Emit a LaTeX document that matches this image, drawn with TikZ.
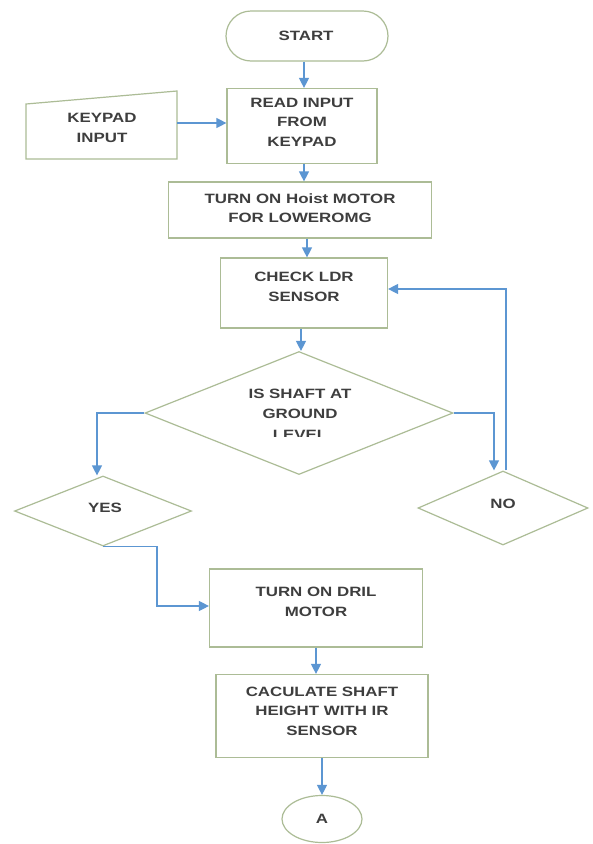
\documentclass[tikz,border=0pt]{standalone}
\usepackage{fontspec}
\newfontfamily\lbl[FakeStretch=1.25]{Liberation Sans}
\usetikzlibrary{shapes.geometric,arrows.meta}
\definecolor{bordc}{RGB}{172,188,150}
\definecolor{arrc}{RGB}{92,150,210}
\definecolor{txtc}{RGB}{62,62,62}
\tikzset{
  shp/.style={draw=bordc, line width=1.2pt, inner sep=0pt, fill=white},
  procbox/.style={shp, rectangle},
  decbox/.style={shp, diamond},
  txt/.style={text=txtc, font=\lbl\bfseries\fontsize{13.5}{19.5}\selectfont, align=center, inner sep=0pt},
  arr/.style={draw=arrc, line width=1.2pt, -{Triangle[length=10pt,width=10pt]}}
}
\begin{document}
\begin{tikzpicture}[x=1pt,y=-1pt]
\useasboundingbox (0,0) rectangle (593,844);
\fill[white] (0,0) rectangle (593,844);
% shapes
\node[shp, rectangle, rounded corners=25pt, minimum width=162pt, minimum height=50pt] (start) at (307,36) {};
\node[procbox, minimum width=150pt, minimum height=75pt] (read) at (302,126) {};
\draw[shp] (26,104) -- (177,91) -- (177,159) -- (26,159) -- cycle;
\coordinate (kpR) at (177,123);
\node[procbox, minimum width=263pt, minimum height=56pt] (hoist) at (300,210) {};
\node[procbox, minimum width=167pt, minimum height=70pt] (check) at (304,293) {};
\node[decbox, minimum width=308pt, minimum height=123pt] (dec) at (299,413) {};
\node[decbox, minimum width=177pt, minimum height=70pt] (yes) at (103,511) {};
\node[decbox, minimum width=170pt, minimum height=74pt] (no) at (503,508) {};
\node[procbox, minimum width=213pt, minimum height=78pt] (dril) at (316,608) {};
\node[procbox, minimum width=212pt, minimum height=83pt] (calc) at (322,716) {};
\node[shp, ellipse, minimum width=80pt, minimum height=47pt] (a) at (322,819) {};
% texts
\node[txt] (startT) at (306,36) {START};
\node[txt] (readT) at (302,122) {READ INPUT\\FROM\\KEYPAD};
\node[txt] (kpT) at (102,128) {KEYPAD\\INPUT};
\node[txt] (hoistT) at (300,208) {TURN ON Hoist MOTOR\\FOR LOWEROMG};
\node[txt] (checkT) at (304,287) {CHECK LDR\\SENSOR};
\node[txt] (decT) at (300,404) {IS SHAFT AT\\GROUND};
\begin{scope}
  \clip (220,420) rectangle (380,436.2);
  \node[txt] (levelT) at (300,435) {LEVEL};
\end{scope}
\node[txt] (yesT) at (105,508) {YES};
\node[txt] (noT) at (503,504) {NO};
\node[txt] (drilT) at (316,602) {TURN ON DRIL\\MOTOR};
\node[txt] (calcT) at (322,711) {CACULATE SHAFT\\HEIGHT WITH IR\\SENSOR};
\node[txt] (aT) at (322,819) {A};
% connectors
\draw[arr] (start.south -| read.north) ++(2,0) coordinate (s1) -- (s1 |- read.north);
\draw[arr] (kpR) -- (kpR -| read.west);
\draw[arr] ([xshift=2pt]read.south) coordinate (r1) -- (r1 |- hoist.north);
\draw[arr] ([xshift=3pt]check.north |- hoist.south) coordinate (h1) -- (h1 |- check.north);
\draw[arr] ([xshift=-3pt]check.south) coordinate (c1) -- (c1 |- dec.north);
\draw[arr] (dec.west) -| ([xshift=-6pt]yes.north);
\draw[arr] (dec.east) -| ([xshift=-9pt]no.north);
\draw[arr] ([xshift=3pt]no.north) |- ([yshift=4pt]check.east);
\draw[arr] (yes.south) -- ++(54,0) |- ([yshift=2pt]dril.west);
\draw[arr] (dril.south) -- (dril.south |- calc.north);
\draw[arr] (calc.south -| a.north) coordinate (k1) -- (a.north);
\end{tikzpicture}
\end{document}
